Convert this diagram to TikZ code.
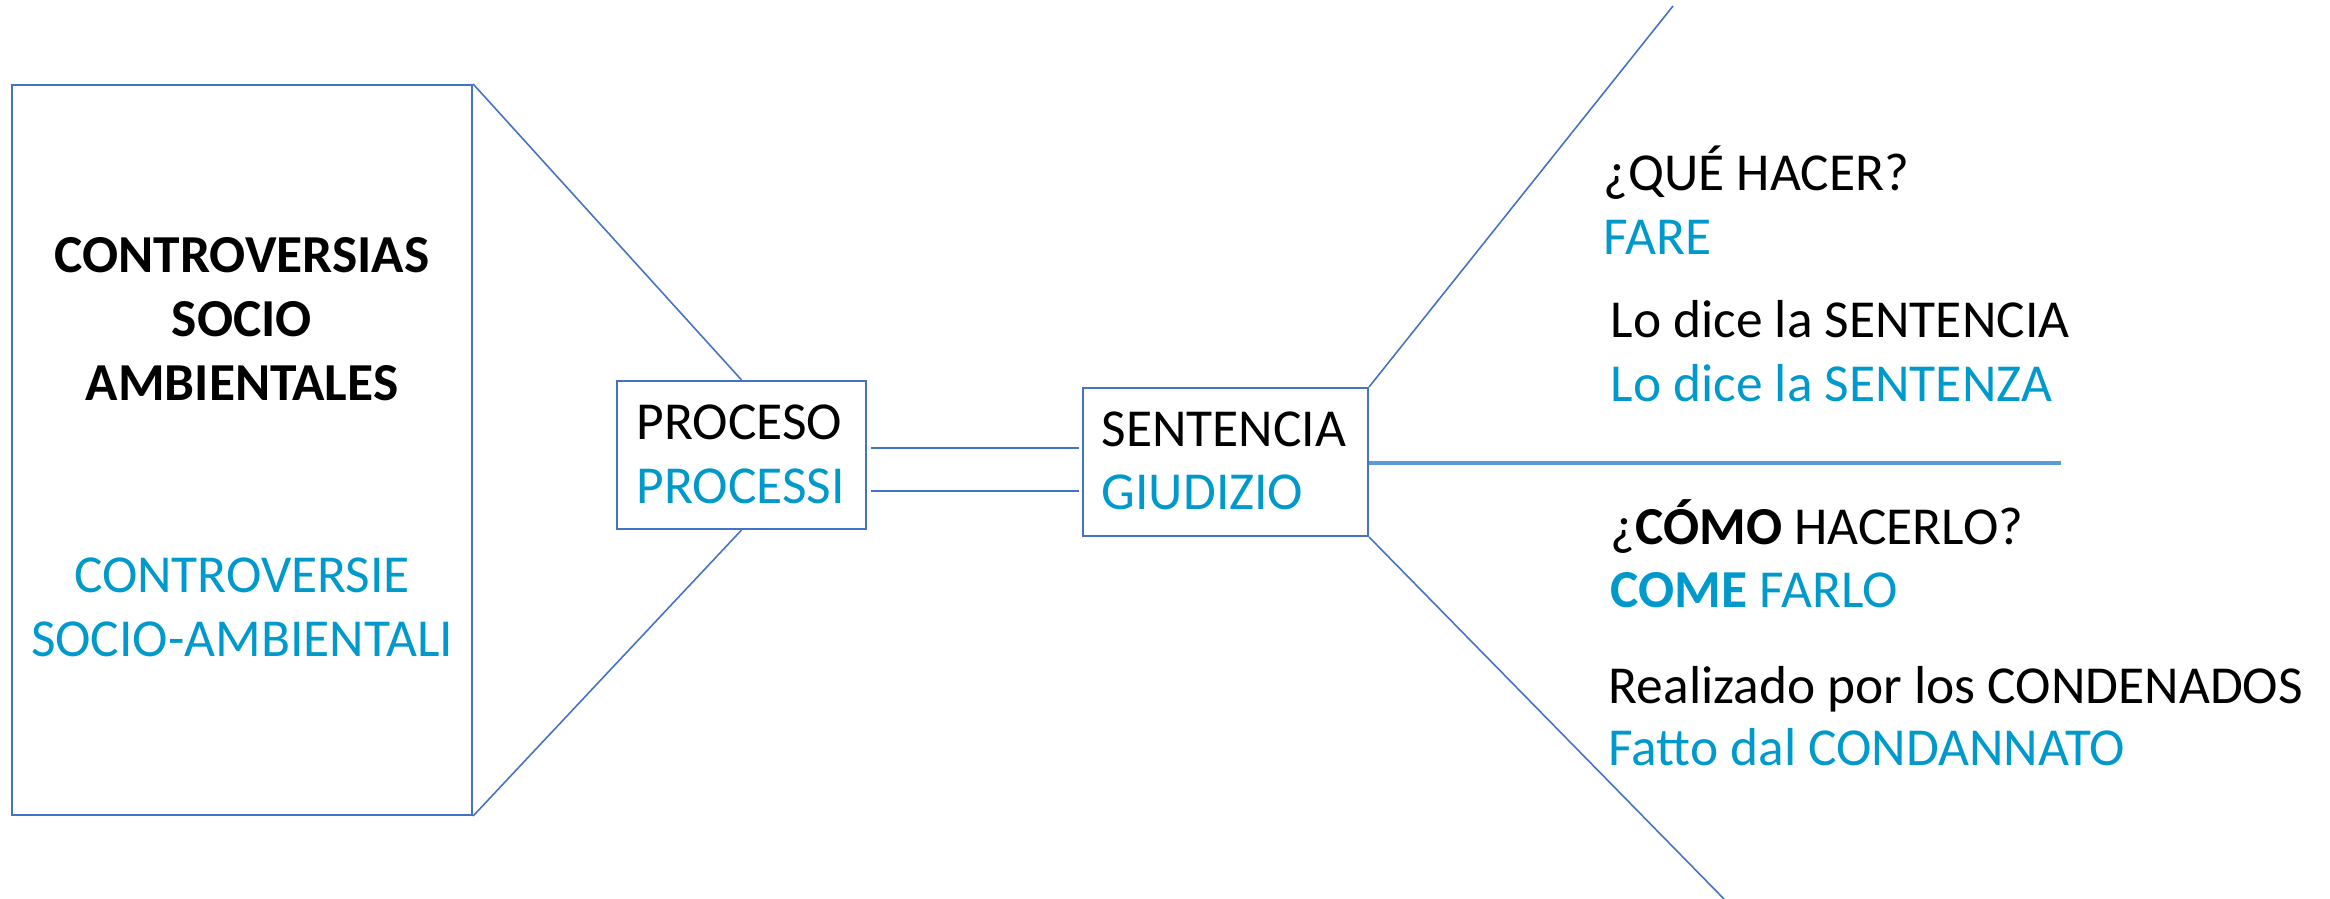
\documentclass[tikz,border=0pt]{standalone}
\usepackage{fontspec}
\setmainfont{Carlito}
\usetikzlibrary{calc}

\definecolor{marco}{RGB}{68,114,196}
\definecolor{celeste}{RGB}{0,153,204}
\definecolor{grueso}{RGB}{91,155,213}

\tikzset{
    caja/.style={draw=marco, line width=0.6pt, inner sep=0pt, fill=white},
    es/.style={font=\fontsize{15.2}{18.1}\selectfont, text=black, inner sep=0pt},
    it/.style={es, text=celeste},
    linea/.style={draw=marco, line width=0.45pt},
}

\begin{document}
\begin{tikzpicture}
    \useasboundingbox (0,0) rectangle (23.30,-8.99);

    % cajas
    \node[caja, minimum width=4.60cm, minimum height=7.30cm] (controversia) at (2.42,-4.50) {};
    \node[caja, minimum width=2.49cm, minimum height=1.48cm] (proceso) at (7.415,-4.55) {};
    \node[caja, minimum width=2.85cm, minimum height=1.48cm] (sentencia) at (12.255,-4.62) {};

    % embudo
    \draw[linea] (controversia.north east) -- (proceso.north);
    \draw[linea] (controversia.south east) -- (proceso.south);
    \draw[linea] ([xshift=0.04cm]proceso.east |- 0,-4.48) -- ([xshift=-0.03cm]sentencia.west |- 0,-4.48);
    \draw[linea] ([xshift=0.04cm]proceso.east |- 0,-4.91) -- ([xshift=-0.03cm]sentencia.west |- 0,-4.91);

    % ramas
    \coordinate (arriba) at (16.73,-0.06);
    \coordinate (abajo) at (17.24,-8.99);
    \coordinate (medio) at (20.61,-4.63);
    \draw[linea] (sentencia.north east) -- (arriba);
    \draw[linea] (sentencia.south east) -- (abajo);
    \draw[draw=grueso, line width=1.1pt] (sentencia.east |- medio) -- (medio);

    % textos
    \node[es, anchor=base, font=\fontsize{15.2}{18.1}\selectfont\bfseries] (c1) at (2.42,-2.73) {CONTROVERSIAS};
    \node[es, anchor=base, font=\fontsize{15.2}{18.1}\selectfont\bfseries] (c2) at (2.42,-3.37) {SOCIO};
    \node[es, anchor=base, font=\fontsize{15.2}{18.1}\selectfont\bfseries] (c3) at (2.42,-4.01) {AMBIENTALES};
    \node[it, anchor=base] (c4) at (2.42,-5.93) {CONTROVERSIE};
    \node[it, anchor=base] (c5) at (2.42,-6.57) {SOCIO-AMBIENTALI};

    \node[es, anchor=base west] (p1) at (6.36,-4.40) {PROCESO};
    \node[it, anchor=base west] (p2) at (6.36,-5.04) {PROCESSI};

    \node[es, anchor=base west] (s1) at (11.01,-4.47) {SENTENCIA};
    \node[it, anchor=base west] (s2) at (11.01,-5.10) {GIUDIZIO};

    \node[es, anchor=base west] (q1) at (16.03,-1.91) {¿QUÉ HACER?};
    \node[it, anchor=base west] (q2) at (16.03,-2.55) {FARE};
    \node[es, anchor=base west] (q3) at (16.10,-3.38) {Lo dice la SENTENCIA};
    \node[it, anchor=base west] (q4) at (16.10,-4.02) {Lo dice la SENTENZA};

    \node[es, anchor=base west] (r1) at (16.10,-5.45) {¿\textbf{CÓMO} HACERLO?};
    \node[it, anchor=base west] (r2) at (16.10,-6.08) {\textbf{COME} FARLO};
    \node[es, anchor=base west] (r3) at (16.08,-7.04) {Realizado por los CONDENADOS};
    \node[it, anchor=base west] (r4) at (16.08,-7.66) {Fatto dal CONDANNATO};
\end{tikzpicture}
\end{document}
